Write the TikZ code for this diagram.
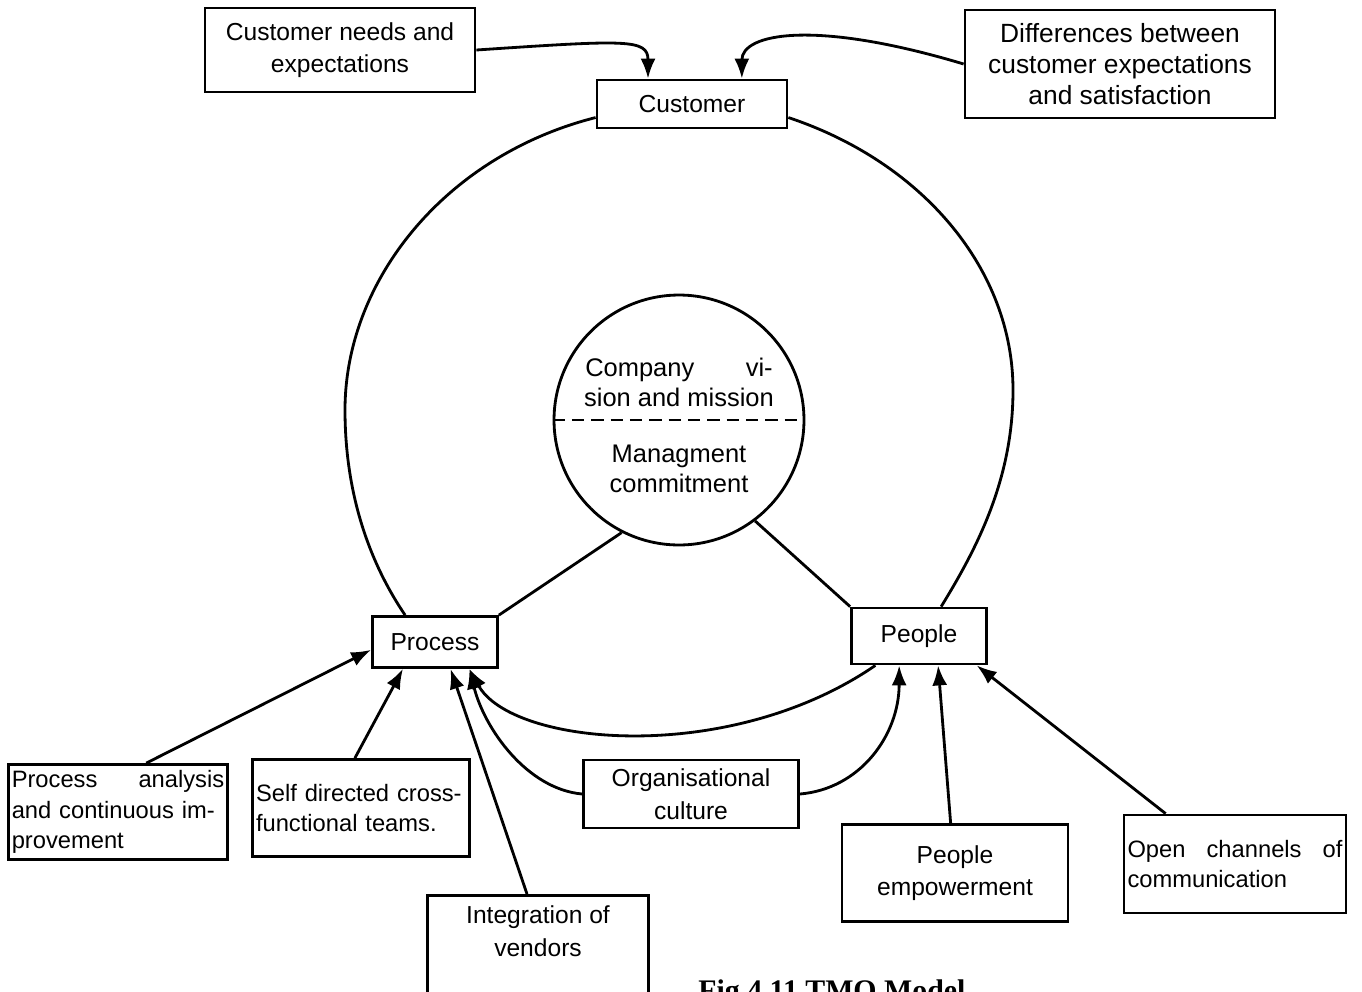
\documentclass[tikz,border=0pt]{standalone}
\usepackage{fontspec}
\setmainfont{Liberation Sans}
\newfontfamily\capfont{Liberation Serif}
\usetikzlibrary{arrows.meta,calc}

\begin{document}
\begin{tikzpicture}[x=0.02cm, y=-0.02cm,
    box/.style={draw, line width=1.6pt, align=center, inner sep=2pt, font=\fontsize{14}{18.5}\selectfont},
    sidebox/.style={box, align=left, font=\fontsize{13.5}{17.5}\selectfont},
    link/.style={line width=1.6pt},
    feed/.style={link, -{Latex[length=0.4cm, width=0.3cm]}}
  ]
  \useasboundingbox (0,0) rectangle (1362,991);

  % top row
  \node[box, minimum width=5.4cm, minimum height=1.68cm] (needs) at (340,50) {Customer needs and\\expectations};
  \node[box, minimum width=3.8cm, minimum height=0.96cm] (customer) at (692,104) {Customer};
  \node[box, minimum width=6.2cm, minimum height=2.16cm, font=\fontsize{15}{17.5}\selectfont] (diffs) at (1120,64) {Differences between\\customer expectations\\and satisfaction};

  % core
  \node[circle, draw, line width=1.6pt, minimum size=5cm] (vision) at (679,420) {};
  \draw[link, dashed, dash pattern=on 7pt off 4pt] (vision.west) -- (vision.east);
  \node[align=center, font=\fontsize{14.5}{17}\selectfont] (visiontext) at (679,382) {\makebox[3.75cm][s]{Company\hfill vi-}\\sion and mission};
  \node[align=center, font=\fontsize{14.5}{17}\selectfont] (committext) at (679,469) {Managment\\commitment};

  \node[box, minimum width=2.5cm, minimum height=1.02cm] (process) at (435,642) {Process};
  \node[box, minimum width=2.7cm, minimum height=1.12cm] (people) at (919,636) {People};

  % bottom row
  \node[sidebox, text width=4.25cm, minimum height=1.9cm] (analysis) at (118,812) {Process\hfill analysis\\and continuous im-\\provement};
  \node[sidebox, text width=4.2cm, minimum height=1.94cm] (teams) at (361,808) {Self directed cross-\\functional teams.};
  \node[box, minimum width=4.3cm, minimum height=1.36cm] (culture) at (691,794) {Organisational\\culture};
  \node[box, minimum width=4.42cm, anchor=north, inner ysep=6pt] (vendors) at (538,894) {Integration of\\vendors\rule[-1.6cm]{0pt}{1.6cm}};
  \node[box, minimum width=4.52cm, minimum height=1.94cm] (empower) at (955,873) {People\\empowerment};
  \node[sidebox, text width=4.3cm, minimum height=1.96cm] (channels) at (1235,864) {Open\hfill channels\hfill of\\communication};

  % ring
  \coordinate (ringwest) at (345,410);
  \coordinate (ringeast) at (1013,390);
  \draw[link] (customer.188) .. controls +(-150,38) and +(0,-130) .. (ringwest)
    .. controls +(0,90) and +(-32,-47) .. (process.138);
  \draw[link] (customer.-8) .. controls +(135,45) and +(0,-120) .. (ringeast)
    .. controls +(0,90) and +(35,-57) .. (people.53);
  \draw[feed] (people.214) .. controls +(-147,101) and +(42,77) .. (process.-38);
  \draw[link] (vision.243) -- (process.north east);
  \draw[link] (vision.307) -- (people.north west);

  % inputs
  \draw[feed] (needs.east) .. controls +(150,-10) and +(0,-40) .. (customer.150);
  \draw[feed] (diffs.west) .. controls +(-150,-45) and +(0,-45) .. (customer.27);
  \draw[feed] (analysis.60) -- (process.187);
  \draw[feed] (teams.97) -- (process.220);
  \draw[feed] ($(vendors.north)+(-11,0)$) -- (process.-60);
  \draw[feed] (culture.west) .. controls +(-55,-5) and +(15,60) .. (process.-38);
  \draw[feed] (culture.east) .. controls +(60,-5) and +(0,70) .. (people.236);
  \draw[feed] (empower.95) -- (people.-57);
  \draw[feed] (channels.144) -- (people.-27);

  \node[anchor=north west, inner sep=0pt, font=\capfont\bfseries\fontsize{17}{20}\selectfont] (caption) at (698,979) {Fig 4.11 TMQ Model};
\end{tikzpicture}
\end{document}
